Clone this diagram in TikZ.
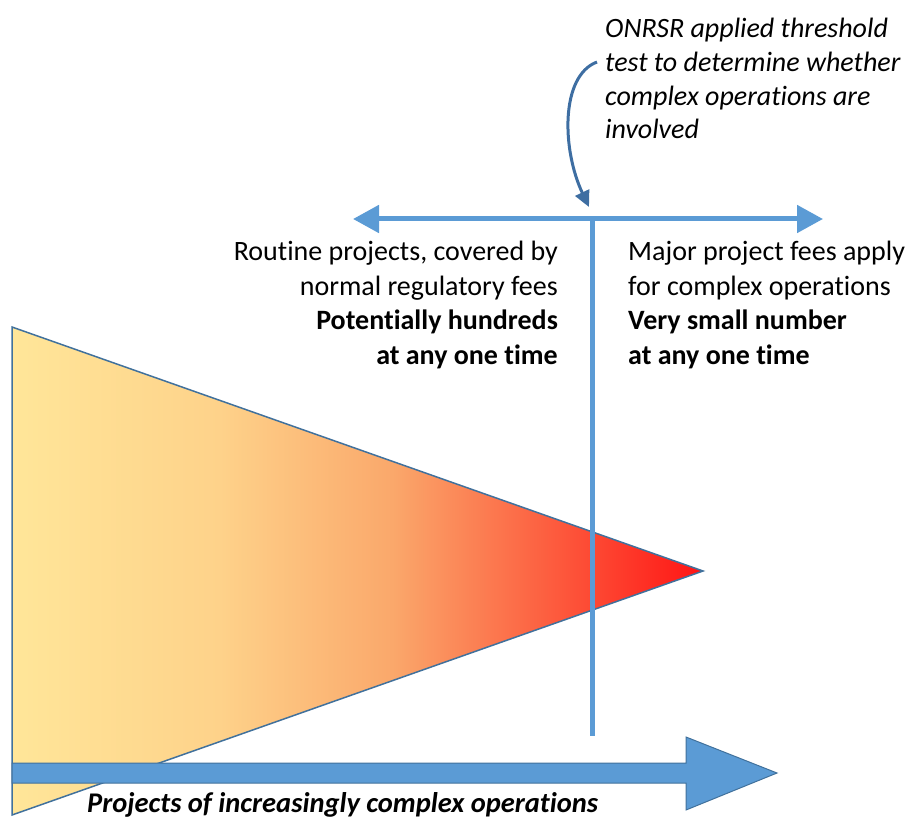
\documentclass[tikz,border=0pt]{standalone}
\usepackage{fontspec}
\setmainfont[RawFeature = {-liga;-clig;-calt}]{Carlito}
\usetikzlibrary{arrows.meta}

\definecolor{lineblue}{RGB}{91,155,213}
\definecolor{edgeblue}{RGB}{65,113,156}
\definecolor{noteblue}{RGB}{62,110,162}
\definecolor{paleyellow}{RGB}{255,230,153}
\definecolor{sandorange}{RGB}{254,210,138}
\definecolor{salmonorange}{RGB}{250,168,107}
\definecolor{hotred}{RGB}{255,20,20}
\pgfdeclarehorizontalshading{conefade}{100bp}{color(0bp)=(paleyellow); color(25bp)=(paleyellow); color(40bp)=(sandorange); color(52.5bp)=(salmonorange); color(75bp)=(hotred); color(100bp)=(hotred)}

\begin{document}
\begin{tikzpicture}[x = 1pt, y = -1pt,
	label text/.style = {font = \fontsize{28}{34.5}\selectfont, inner sep = 0pt, text = black},
	scope line/.style = {lineblue, line width = 5pt},
	scope arrow/.style = {scope line, -{Triangle[length = 26pt, width = 27pt]}}]
	\useasboundingbox (0, 0) rectangle (913, 821);

	\shade[shading = conefade, draw = edgeblue, line width = 1.5pt, line join = miter] (12, 327) -- (703, 571) -- (12, 815) -- cycle;

	\coordinate (split) at (592, 219);
	\coordinate (leftend) at (353, 219);
	\coordinate (rightend) at (823, 219);
	\coordinate (linebottom) at (592, 736);
	\coordinate (notestart) at (597, 62);
	\coordinate (notetip) at (589, 207);

	\draw[scope line] (split) -- (linebottom);
	\draw[scope arrow] (split) -- (leftend);
	\draw[scope arrow] (split) -- (rightend);

	\fill[lineblue, draw = edgeblue, line width = 1pt] (12, 763) -- (686, 763) -- (686, 737) -- (777, 773) -- (686, 810) -- (686, 783) -- (12, 783) -- cycle;

	\node[label text, font = \fontsize{28}{33.7}\selectfont, anchor = base west, align = left] (note) at (605, 139) {\itshape ONRSR applied threshold\\\itshape test to determine whether\\\itshape complex operations are\\\itshape involved};
	\draw[noteblue, line width = 3pt, -{Triangle[length = 16pt, width = 15pt]}] (notestart) .. controls (560, 76) and (562, 150) .. (notetip);

	\node[label text, anchor = base east, align = right] (routine) at (558, 364) {Routine projects, covered by\\normal regulatory fees\\\textbf{Potentially hundreds}\\\textbf{at any one time}};
	\node[label text, anchor = base west, align = left] (major) at (628, 364) {Major project fees apply\\for complex operations\\\textbf{Very small number}\\\textbf{at any one time}};

	\node[label text, font = \fontsize{28.5}{34}\selectfont, anchor = base west] (axis) at (87, 812) {\bfseries\itshape Projects of increasingly complex operations};
\end{tikzpicture}
\end{document}
